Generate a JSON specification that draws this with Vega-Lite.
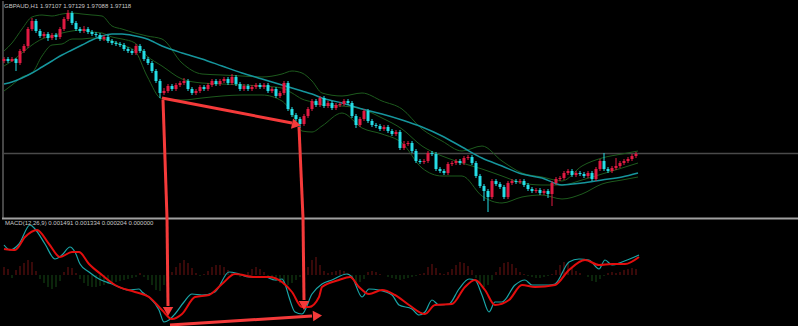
{
  "$schema": "https://vega.github.io/schema/vega-lite/v6.json",
  "background": "#000000",
  "padding": 0,
  "spacing": 0,
  "bounds": "flush",
  "config": {"view": {"stroke": null}, "axis": {"disable": true}},
  "datasets": {
    "one": [{}],
    "candles": [
      {"t":0,"o":157,"h":161,"l":155,"c":159},{"t":1,"o":159,"h":161,"l":155,"c":157},{"t":2,"o":157,"h":161,"l":156,"c":159},{"t":3,"o":159,"h":160,"l":147,"c":155},
      {"t":4,"o":155,"h":169,"l":153,"c":167},{"t":5,"o":167,"h":174,"l":165,"c":172},{"t":6,"o":172,"h":191,"l":170,"c":189},{"t":7,"o":189,"h":200,"l":187,"c":197},
      {"t":8,"o":197,"h":199,"l":185,"c":187},{"t":9,"o":187,"h":189,"l":180,"c":182},{"t":10,"o":182,"h":186,"l":180,"c":184},{"t":11,"o":184,"h":186,"l":177,"c":180},
      {"t":12,"o":180,"h":185,"l":178,"c":183},{"t":13,"o":183,"h":185,"l":178,"c":181},{"t":14,"o":181,"h":191,"l":179,"c":189},{"t":15,"o":189,"h":201,"l":187,"c":199},
      {"t":16,"o":199,"h":208,"l":197,"c":205},{"t":17,"o":205,"h":207,"l":193,"c":195},{"t":18,"o":195,"h":197,"l":187,"c":189},{"t":19,"o":189,"h":191,"l":185,"c":187},
      {"t":20,"o":187,"h":192,"l":185,"c":189},{"t":21,"o":189,"h":191,"l":184,"c":186},{"t":22,"o":186,"h":188,"l":182,"c":184},{"t":23,"o":184,"h":186,"l":181,"c":183},
      {"t":24,"o":183,"h":185,"l":177,"c":179},{"t":25,"o":179,"h":183,"l":177,"c":181},{"t":26,"o":181,"h":183,"l":175,"c":177},{"t":27,"o":177,"h":179,"l":173,"c":175},
      {"t":28,"o":175,"h":177,"l":172,"c":174},{"t":29,"o":174,"h":176,"l":171,"c":173},{"t":30,"o":173,"h":175,"l":167,"c":169},{"t":31,"o":169,"h":171,"l":165,"c":167},
      {"t":32,"o":167,"h":169,"l":163,"c":165},{"t":33,"o":165,"h":174,"l":163,"c":172},{"t":34,"o":172,"h":174,"l":165,"c":167},{"t":35,"o":167,"h":169,"l":157,"c":159},
      {"t":36,"o":159,"h":161,"l":153,"c":155},{"t":37,"o":155,"h":157,"l":145,"c":147},{"t":38,"o":147,"h":149,"l":135,"c":137},{"t":39,"o":137,"h":139,"l":120,"c":125},
      {"t":40,"o":125,"h":130,"l":123,"c":127},{"t":41,"o":127,"h":134,"l":125,"c":132},{"t":42,"o":132,"h":134,"l":127,"c":129},{"t":43,"o":129,"h":135,"l":127,"c":133},
      {"t":44,"o":133,"h":137,"l":131,"c":135},{"t":45,"o":135,"h":140,"l":133,"c":137},{"t":46,"o":137,"h":139,"l":127,"c":129},{"t":47,"o":129,"h":131,"l":123,"c":125},
      {"t":48,"o":125,"h":129,"l":123,"c":127},{"t":49,"o":127,"h":133,"l":125,"c":131},{"t":50,"o":131,"h":133,"l":127,"c":129},{"t":51,"o":129,"h":135,"l":127,"c":133},
      {"t":52,"o":133,"h":139,"l":131,"c":137},{"t":53,"o":137,"h":139,"l":132,"c":134},{"t":54,"o":134,"h":139,"l":132,"c":137},{"t":55,"o":137,"h":141,"l":135,"c":139},
      {"t":56,"o":139,"h":141,"l":133,"c":135},{"t":57,"o":135,"h":144,"l":133,"c":141},{"t":58,"o":141,"h":143,"l":132,"c":134},{"t":59,"o":134,"h":136,"l":127,"c":129},
      {"t":60,"o":129,"h":134,"l":127,"c":132},{"t":61,"o":132,"h":134,"l":127,"c":129},{"t":62,"o":129,"h":133,"l":127,"c":131},{"t":63,"o":131,"h":135,"l":129,"c":133},
      {"t":64,"o":133,"h":135,"l":129,"c":131},{"t":65,"o":131,"h":135,"l":129,"c":133},{"t":66,"o":133,"h":135,"l":125,"c":127},{"t":67,"o":127,"h":131,"l":125,"c":129},
      {"t":68,"o":129,"h":131,"l":120,"c":122},{"t":69,"o":122,"h":127,"l":120,"c":125},{"t":70,"o":125,"h":137,"l":123,"c":135},{"t":71,"o":135,"h":137,"l":107,"c":109},
      {"t":72,"o":109,"h":111,"l":101,"c":103},{"t":73,"o":103,"h":105,"l":97,"c":99},{"t":74,"o":99,"h":101,"l":90,"c":94},{"t":75,"o":94,"h":104,"l":92,"c":102},
      {"t":76,"o":102,"h":111,"l":100,"c":109},{"t":77,"o":109,"h":119,"l":107,"c":117},{"t":78,"o":117,"h":119,"l":111,"c":113},{"t":79,"o":113,"h":122,"l":111,"c":120},
      {"t":80,"o":120,"h":122,"l":110,"c":112},{"t":81,"o":112,"h":117,"l":110,"c":115},{"t":82,"o":115,"h":117,"l":108,"c":110},{"t":83,"o":110,"h":115,"l":108,"c":113},
      {"t":84,"o":113,"h":116,"l":111,"c":114},{"t":85,"o":114,"h":119,"l":112,"c":117},{"t":86,"o":117,"h":119,"l":113,"c":115},{"t":87,"o":115,"h":117,"l":100,"c":102},
      {"t":88,"o":102,"h":104,"l":90,"c":93},{"t":89,"o":93,"h":101,"l":91,"c":99},{"t":90,"o":99,"h":109,"l":97,"c":107},{"t":91,"o":107,"h":109,"l":95,"c":97},
      {"t":92,"o":97,"h":99,"l":91,"c":93},{"t":93,"o":93,"h":95,"l":90,"c":92},{"t":94,"o":92,"h":94,"l":87,"c":89},{"t":95,"o":89,"h":93,"l":87,"c":91},
      {"t":96,"o":91,"h":93,"l":85,"c":87},{"t":97,"o":87,"h":89,"l":82,"c":84},{"t":98,"o":84,"h":88,"l":82,"c":86},{"t":99,"o":86,"h":88,"l":68,"c":70},
      {"t":100,"o":70,"h":77,"l":68,"c":74},{"t":101,"o":74,"h":77,"l":72,"c":75},{"t":102,"o":75,"h":77,"l":65,"c":67},{"t":103,"o":67,"h":69,"l":55,"c":57},
      {"t":104,"o":57,"h":59,"l":54,"c":56},{"t":105,"o":56,"h":59,"l":54,"c":57},{"t":106,"o":57,"h":67,"l":55,"c":65},{"t":107,"o":65,"h":67,"l":62,"c":64},
      {"t":108,"o":64,"h":66,"l":47,"c":49},{"t":109,"o":49,"h":51,"l":45,"c":47},{"t":110,"o":47,"h":49,"l":43,"c":45},{"t":111,"o":45,"h":56,"l":43,"c":54},
      {"t":112,"o":54,"h":57,"l":52,"c":55},{"t":113,"o":55,"h":59,"l":53,"c":57},{"t":114,"o":57,"h":59,"l":53,"c":55},{"t":115,"o":55,"h":62,"l":53,"c":60},
      {"t":116,"o":60,"h":63,"l":58,"c":61},{"t":117,"o":61,"h":63,"l":53,"c":55},{"t":118,"o":55,"h":57,"l":40,"c":42},{"t":119,"o":42,"h":44,"l":30,"c":32},
      {"t":120,"o":32,"h":34,"l":17,"c":27},{"t":121,"o":27,"h":29,"l":6,"c":21},{"t":122,"o":21,"h":39,"l":19,"c":37},{"t":123,"o":37,"h":39,"l":32,"c":34},
      {"t":124,"o":34,"h":36,"l":29,"c":31},{"t":125,"o":31,"h":33,"l":19,"c":21},{"t":126,"o":21,"h":37,"l":19,"c":35},{"t":127,"o":35,"h":39,"l":33,"c":37},
      {"t":128,"o":37,"h":39,"l":34,"c":36},{"t":129,"o":36,"h":39,"l":34,"c":37},{"t":130,"o":37,"h":39,"l":31,"c":33},{"t":131,"o":33,"h":35,"l":27,"c":29},
      {"t":132,"o":29,"h":31,"l":25,"c":27},{"t":133,"o":27,"h":30,"l":25,"c":28},{"t":134,"o":28,"h":30,"l":23,"c":25},{"t":135,"o":25,"h":29,"l":23,"c":27},
      {"t":136,"o":27,"h":29,"l":20,"c":24},{"t":137,"o":24,"h":37,"l":12,"c":35},{"t":138,"o":35,"h":41,"l":33,"c":39},{"t":139,"o":39,"h":42,"l":37,"c":40},
      {"t":140,"o":40,"h":47,"l":38,"c":45},{"t":141,"o":45,"h":49,"l":43,"c":47},{"t":142,"o":47,"h":49,"l":41,"c":43},{"t":143,"o":43,"h":47,"l":41,"c":45},
      {"t":144,"o":45,"h":47,"l":42,"c":44},{"t":145,"o":44,"h":46,"l":40,"c":42},{"t":146,"o":42,"h":47,"l":40,"c":45},{"t":147,"o":45,"h":47,"l":37,"c":39},
      {"t":148,"o":39,"h":51,"l":37,"c":49},{"t":149,"o":49,"h":59,"l":47,"c":57},{"t":150,"o":57,"h":65,"l":47,"c":49},{"t":151,"o":49,"h":51,"l":45,"c":47},
      {"t":152,"o":47,"h":52,"l":45,"c":50},{"t":153,"o":50,"h":60,"l":48,"c":52},{"t":154,"o":52,"h":57,"l":50,"c":55},{"t":155,"o":55,"h":59,"l":53,"c":57},
      {"t":156,"o":57,"h":61,"l":55,"c":59},{"t":157,"o":59,"h":64,"l":57,"c":62},{"t":158,"o":62,"h":66,"l":60,"c":64}
    ],
    "bands": [
      {"t":0,"u":167,"mid":152,"lo":127,"ma":134},{"t":2,"u":175,"mid":157,"lo":133,"ma":136},{"t":4.5,"u":189,"mid":165,"lo":141,"ma":140},
      {"t":7,"u":201,"mid":173,"lo":145,"ma":145},{"t":9.5,"u":203,"mid":179,"lo":162,"ma":151},{"t":12,"u":202,"mid":182,"lo":173,"ma":157},
      {"t":14.5,"u":204,"mid":185,"lo":174,"ma":163},{"t":17,"u":205,"mid":187,"lo":179,"ma":168},{"t":19.5,"u":204,"mid":188,"lo":179,"ma":173},
      {"t":22,"u":203,"mid":186,"lo":180,"ma":178},{"t":24.5,"u":202,"mid":185,"lo":179,"ma":182},{"t":27,"u":192,"mid":181,"lo":177,"ma":184},
      {"t":29.5,"u":189,"mid":179,"lo":173,"ma":184},{"t":32.75,"u":185,"mid":175,"lo":167,"ma":182},{"t":35.75,"u":182,"mid":162,"lo":142,"ma":179},
      {"t":39.5,"u":179,"mid":152,"lo":119,"ma":172},{"t":44.5,"u":155,"mid":139,"lo":118,"ma":165},{"t":49.5,"u":144,"mid":135,"lo":120,"ma":159},
      {"t":54.5,"u":143,"mid":134,"lo":122,"ma":152},{"t":59.5,"u":142,"mid":133,"lo":123,"ma":145},{"t":64.5,"u":141,"mid":132,"lo":123,"ma":139},
      {"t":69.5,"u":144,"mid":130,"lo":117,"ma":133},{"t":72,"u":147,"mid":125,"lo":105,"ma":130},{"t":74.5,"u":145,"mid":119,"lo":87,"ma":127},
      {"t":77,"u":137,"mid":116,"lo":86,"ma":124},{"t":79.5,"u":125,"mid":113,"lo":92,"ma":120},{"t":84.5,"u":122,"mid":112,"lo":105,"ma":115},
      {"t":89.5,"u":125,"mid":109,"lo":90,"ma":109},{"t":94.5,"u":117,"mid":100,"lo":84,"ma":104},{"t":99.5,"u":109,"mid":89,"lo":75,"ma":98},
      {"t":104.5,"u":89,"mid":72,"lo":50,"ma":91},{"t":109.5,"u":77,"mid":62,"lo":42,"ma":82},{"t":114.5,"u":67,"mid":55,"lo":42,"ma":71},
      {"t":119.5,"u":72,"mid":49,"lo":22,"ma":60},{"t":124.5,"u":57,"mid":42,"lo":15,"ma":52},{"t":129.5,"u":45,"mid":35,"lo":21,"ma":44},
      {"t":134.5,"u":41,"mid":33,"lo":23,"ma":40},{"t":139.5,"u":37,"mid":33,"lo":19,"ma":33},{"t":144.5,"u":52,"mid":38,"lo":24,"ma":35},
      {"t":149.5,"u":60,"mid":44,"lo":34,"ma":38},{"t":154.5,"u":64,"mid":50,"lo":38,"ma":41},{"t":158.5,"u":67,"mid":55,"lo":41,"ma":45}
    ],
    "hist": [
      {"t":0,"h":8},{"t":1,"h":6},{"t":2,"h":-3},{"t":3,"h":5},{"t":4,"h":9},{"t":5,"h":12},{"t":6,"h":15},{"t":7,"h":13},{"t":8,"h":4},{"t":9,"h":-4},
      {"t":10,"h":-8},{"t":11,"h":-12},{"t":12,"h":-14},{"t":13,"h":-12},{"t":14,"h":-6},{"t":15,"h":3},{"t":16,"h":8},{"t":17,"h":7},{"t":18,"h":2},{"t":19,"h":-4},
      {"t":20,"h":-8},{"t":21,"h":-11},{"t":22,"h":-12},{"t":23,"h":-12},{"t":24,"h":-11},{"t":25,"h":-10},{"t":26,"h":-9},{"t":27,"h":-8},{"t":28,"h":-7},{"t":29,"h":-6},
      {"t":30,"h":-5},{"t":31,"h":-4},{"t":32,"h":-3},{"t":33,"h":-2},{"t":34,"h":2},{"t":35,"h":-2},{"t":36,"h":-5},{"t":37,"h":-10},{"t":38,"h":-15},{"t":39,"h":-16},
      {"t":40,"h":-10},{"t":41,"h":-4},{"t":42,"h":3},{"t":43,"h":8},{"t":44,"h":12},{"t":45,"h":15},{"t":46,"h":12},{"t":47,"h":7},{"t":48,"h":2},{"t":49,"h":-1},
      {"t":50,"h":1},{"t":51,"h":4},{"t":52,"h":8},{"t":53,"h":10},{"t":54,"h":10},{"t":55,"h":8},{"t":56,"h":5},{"t":57,"h":3},{"t":58,"h":1},{"t":59,"h":-2},
      {"t":60,"h":-1},{"t":61,"h":3},{"t":62,"h":6},{"t":63,"h":8},{"t":64,"h":6},{"t":65,"h":3},{"t":66,"h":-2},{"t":67,"h":-4},{"t":68,"h":-6},{"t":69,"h":-8},
      {"t":70,"h":-10},{"t":71,"h":-10},{"t":72,"h":-8},{"t":73,"h":-5},{"t":74,"h":-2},{"t":75,"h":3},{"t":76,"h":8},{"t":77,"h":15},{"t":78,"h":18},{"t":79,"h":10},
      {"t":80,"h":4},{"t":81,"h":2},{"t":82,"h":3},{"t":83,"h":4},{"t":84,"h":5},{"t":85,"h":4},{"t":86,"h":2},{"t":87,"h":-4},{"t":88,"h":-8},{"t":89,"h":-7},
      {"t":90,"h":-4},{"t":91,"h":3},{"t":92,"h":4},{"t":93,"h":3},{"t":94,"h":1},{"t":95,"h":0},{"t":96,"h":-2},{"t":97,"h":-3},{"t":98,"h":-4},{"t":99,"h":-5},
      {"t":100,"h":-4},{"t":101,"h":-3},{"t":102,"h":-2},{"t":103,"h":-1},{"t":104,"h":1},{"t":105,"h":2},{"t":106,"h":8},{"t":107,"h":11},{"t":108,"h":7},{"t":109,"h":2},
      {"t":110,"h":1},{"t":111,"h":3},{"t":112,"h":6},{"t":113,"h":10},{"t":114,"h":13},{"t":115,"h":12},{"t":116,"h":9},{"t":117,"h":5},{"t":118,"h":-3},{"t":119,"h":-8},
      {"t":120,"h":-12},{"t":121,"h":-10},{"t":122,"h":-5},{"t":123,"h":3},{"t":124,"h":8},{"t":125,"h":12},{"t":126,"h":13},{"t":127,"h":11},{"t":128,"h":7},{"t":129,"h":3},
      {"t":130,"h":1},{"t":131,"h":-1},{"t":132,"h":-2},{"t":133,"h":-3},{"t":134,"h":-3},{"t":135,"h":-2},{"t":136,"h":-1},{"t":137,"h":1},{"t":138,"h":5},{"t":139,"h":10},
      {"t":140,"h":13},{"t":141,"h":12},{"t":142,"h":8},{"t":143,"h":4},{"t":144,"h":2},{"t":145,"h":0},{"t":146,"h":-2},{"t":147,"h":-6},{"t":148,"h":-7},{"t":149,"h":-4},
      {"t":150,"h":-1},{"t":151,"h":2},{"t":152,"h":3},{"t":153,"h":2},{"t":154,"h":3},{"t":155,"h":5},{"t":156,"h":6},{"t":157,"h":7},{"t":158,"h":6}
    ],
    "macd": [
      {"t":0,"v":30},{"t":1.5,"v":25},{"t":3.75,"v":31},{"t":6.5,"v":50},{"t":7.75,"v":46},{"t":10.25,"v":31},{"t":12.75,"v":16},{"t":14.5,"v":20},{"t":16.5,"v":28},
      {"t":17.75,"v":23},{"t":19,"v":11},{"t":21.25,"v":3},{"t":23.75,"v":-4},{"t":27,"v":-9},{"t":31.25,"v":-15},{"t":33.75,"v":-14},{"t":34.5,"v":-17},{"t":36.25,"v":-22},
      {"t":38.75,"v":-35},{"t":40,"v":-47},{"t":41.25,"v":-45},{"t":42.75,"v":-39},{"t":45,"v":-27},{"t":47,"v":-19},{"t":49.5,"v":-20},{"t":52.75,"v":-17},{"t":56.25,"v":3},
      {"t":58.75,"v":1},{"t":61.25,"v":-2},{"t":65.25,"v":-2},{"t":67.75,"v":-5},{"t":69.5,"v":-4},{"t":70.25,"v":-9},{"t":71.25,"v":-22},{"t":72.75,"v":-37},{"t":74.5,"v":-39},
      {"t":77,"v":-19},{"t":79.5,"v":-9},{"t":82,"v":-5},{"t":85.75,"v":1},{"t":87,"v":-2},{"t":89.5,"v":-22},{"t":91.25,"v":-14},{"t":93.75,"v":-15},{"t":97,"v":-20},
      {"t":98.75,"v":-30},{"t":102,"v":-34},{"t":103.75,"v":-40},{"t":105.25,"v":-37},{"t":107,"v":-25},{"t":108.75,"v":-30},{"t":111.25,"v":-29},{"t":113.75,"v":-14},
      {"t":116.25,"v":-4},{"t":117.75,"v":-5},{"t":119.5,"v":-20},{"t":121.25,"v":-37},{"t":122.75,"v":-27},{"t":124.5,"v":-27},{"t":127.75,"v":-10},{"t":130.25,"v":-5},
      {"t":132,"v":-10},{"t":136.25,"v":-10},{"t":137.75,"v":-9},{"t":141.25,"v":13},{"t":143.75,"v":16},{"t":146.25,"v":15},{"t":148.75,"v":6},{"t":150.25,"v":15},
      {"t":152,"v":10},{"t":154.5,"v":13},{"t":158.75,"v":20}
    ],
    "signal": [
      {"t":0,"v":26},{"t":2.75,"v":25},{"t":5.25,"v":38},{"t":8.25,"v":45},{"t":11.25,"v":31},{"t":14,"v":18},{"t":17,"v":23},{"t":18.75,"v":23},{"t":21.25,"v":11},
      {"t":24.5,"v":0},{"t":27.75,"v":-10},{"t":32.75,"v":-17},{"t":36.25,"v":-22},{"t":39.5,"v":-35},{"t":42,"v":-44},{"t":44.5,"v":-39},{"t":47.75,"v":-22},{"t":51.25,"v":-20},
      {"t":54.5,"v":-9},{"t":57.75,"v":1},{"t":62.75,"v":-2},{"t":66.25,"v":-2},{"t":69.5,"v":-7},{"t":72,"v":-17},{"t":74.5,"v":-32},{"t":76.25,"v":-32},{"t":78.75,"v":-22},
      {"t":79.5,"v":-12},{"t":83.75,"v":-5},{"t":86.5,"v":-2},{"t":88.75,"v":-12},{"t":91.25,"v":-19},{"t":94.5,"v":-15},{"t":97.75,"v":-20},{"t":101.25,"v":-30},
      {"t":105.25,"v":-39},{"t":107.75,"v":-30},{"t":112,"v":-29},{"t":115.25,"v":-12},{"t":117.75,"v":-5},{"t":120.25,"v":-15},{"t":122.75,"v":-30},{"t":126.25,"v":-25},
      {"t":129.5,"v":-10},{"t":132.75,"v":-12},{"t":137.75,"v":-10},{"t":141.25,"v":5},{"t":145.25,"v":15},{"t":148.75,"v":10},{"t":152,"v":11},{"t":155.25,"v":11},{"t":158.75,"v":18}
    ],
    "arrowsTop": [
      {"t1":39.5,"p1":120,"t2":72,"p2":95},
      {"t1":39.75,"p1":118,"t2":40.75,"p2":0},
      {"t1":73.75,"p1":91,"t2":74.75,"p2":0}
    ],
    "arrowsBottom": [
      {"t1":40.75,"v1":57,"t2":41,"v2":-31},
      {"t1":74.75,"v1":57,"t2":75,"v2":-25},
      {"t1":41.5,"v1":-50,"t2":77,"v2":-41}
    ]
  },
  "vconcat": [
    {
      "width": 798,
      "height": 217,
      "layer": [
        {
          "data": {"name": "one"},
          "mark": {"type": "rule", "color": "#8c8c8c", "strokeWidth": 1},
          "encoding": {
            "x": {"datum": -0.25, "type": "quantitative", "scale": {"domain": [-0.5, 199], "nice": false, "zero": false, "padding": 0}, "axis": null},
            "y": {"datum": 0, "type": "quantitative", "scale": {"domain": [0, 217], "nice": false, "zero": false, "padding": 0}, "axis": null},
            "y2": {"datum": 217}
          }
        },
        {
          "data": {"name": "one"},
          "mark": {"type": "rule", "color": "#4a4a4a", "strokeWidth": 1.5},
          "encoding": {
            "x": {"datum": -0.5, "type": "quantitative", "axis": null},
            "x2": {"datum": 199},
            "y": {"datum": 64.5, "type": "quantitative", "axis": null}
          }
        },
        {
          "data": {"name": "bands"},
          "mark": {"type": "line", "color": "#1d5a1d", "strokeWidth": 1, "interpolate": "monotone"},
          "encoding": {"x": {"field": "t", "type": "quantitative", "axis": null}, "y": {"field": "u", "type": "quantitative", "axis": null}}
        },
        {
          "data": {"name": "bands"},
          "mark": {"type": "line", "color": "#1d5a1d", "strokeWidth": 1, "interpolate": "monotone"},
          "encoding": {"x": {"field": "t", "type": "quantitative", "axis": null}, "y": {"field": "mid", "type": "quantitative", "axis": null}}
        },
        {
          "data": {"name": "bands"},
          "mark": {"type": "line", "color": "#1d5a1d", "strokeWidth": 1, "interpolate": "monotone"},
          "encoding": {"x": {"field": "t", "type": "quantitative", "axis": null}, "y": {"field": "lo", "type": "quantitative", "axis": null}}
        },
        {
          "data": {"name": "bands"},
          "mark": {"type": "line", "color": "#16959c", "strokeWidth": 1.5, "interpolate": "monotone"},
          "encoding": {"x": {"field": "t", "type": "quantitative", "axis": null}, "y": {"field": "ma", "type": "quantitative", "axis": null}}
        },
        {
          "data": {"name": "candles"},
          "mark": {"type": "rule", "strokeWidth": 1},
          "encoding": {
            "x": {"field": "t", "type": "quantitative", "axis": null},
            "y": {"field": "l", "type": "quantitative", "axis": null},
            "y2": {"field": "h"},
            "color": {"condition": {"test": "datum.c > datum.o", "value": "#e21a42"}, "value": "#25dde6"}
          }
        },
        {
          "data": {"name": "candles"},
          "mark": {"type": "bar", "size": 3},
          "encoding": {
            "x": {"field": "t", "type": "quantitative", "axis": null, "scale": {"padding": 0}},
            "y": {"field": "o", "type": "quantitative", "axis": null, "scale": {"padding": 0}},
            "y2": {"field": "c"},
            "color": {"condition": {"test": "datum.c > datum.o", "value": "#e21a42"}, "value": "#25dde6"}
          }
        },
        {
          "data": {"name": "one"},
          "mark": {"type": "rule", "color": "#a0a0a0", "strokeWidth": 2},
          "encoding": {
            "x": {"datum": -0.5, "type": "quantitative", "axis": null},
            "x2": {"datum": 199},
            "y": {"datum": -0.5, "type": "quantitative", "axis": null}
          }
        },
        {
          "data": {"name": "arrowsTop"},
          "mark": {"type": "rule", "color": "#f53a3a", "strokeWidth": 3},
          "encoding": {
            "x": {"field": "t1", "type": "quantitative", "axis": null},
            "y": {"field": "p1", "type": "quantitative", "axis": null},
            "x2": {"field": "t2"},
            "y2": {"field": "p2"}
          }
        },
        {
          "data": {"name": "one"},
          "mark": {"type": "point", "shape": "triangle", "angle": 101.5, "filled": true, "opacity": 1, "size": 110, "color": "#f53a3a"},
          "encoding": {"x": {"datum": 72.75, "type": "quantitative", "axis": null}, "y": {"datum": 93.8, "type": "quantitative", "axis": null}}
        },
        {
          "data": {"name": "one"},
          "mark": {"type": "text", "align": "left", "baseline": "top", "font": "Liberation Sans", "fontSize": 6, "color": "#c8c8c8"},
          "encoding": {
            "x": {"datum": 0, "type": "quantitative", "axis": null},
            "y": {"datum": 215, "type": "quantitative", "axis": null},
            "text": {"value": "GBPAUD,H1  1.97107 1.97129 1.97088 1.97118"}
          }
        }
      ]
    },
    {
      "width": 798,
      "height": 109,
      "layer": [
        {
          "data": {"name": "hist"},
          "mark": {"type": "rule", "strokeWidth": 1},
          "encoding": {
            "x": {"field": "t", "type": "quantitative", "scale": {"domain": [-0.5, 199], "nice": false, "zero": false, "padding": 0}, "axis": null},
            "y": {"field": "h", "type": "quantitative", "scale": {"domain": [-52, 57], "nice": false, "zero": false, "padding": 0}, "axis": null},
            "y2": {"datum": 0},
            "color": {"condition": {"test": "datum.h > 0", "value": "#701212"}, "value": "#164a16"}
          }
        },
        {
          "data": {"name": "macd"},
          "mark": {"type": "line", "color": "#1aa6a8", "strokeWidth": 1.2, "interpolate": "monotone"},
          "encoding": {"x": {"field": "t", "type": "quantitative", "axis": null}, "y": {"field": "v", "type": "quantitative", "axis": null}}
        },
        {
          "data": {"name": "signal"},
          "mark": {"type": "line", "color": "#e30e0e", "strokeWidth": 2, "interpolate": "monotone"},
          "encoding": {"x": {"field": "t", "type": "quantitative", "axis": null}, "y": {"field": "v", "type": "quantitative", "axis": null}}
        },
        {
          "data": {"name": "arrowsBottom"},
          "mark": {"type": "rule", "color": "#f53a3a", "strokeWidth": 3},
          "encoding": {
            "x": {"field": "t1", "type": "quantitative", "axis": null},
            "y": {"field": "v1", "type": "quantitative", "axis": null},
            "x2": {"field": "t2"},
            "y2": {"field": "v2"}
          }
        },
        {
          "data": {"name": "one"},
          "mark": {"type": "point", "shape": "triangle", "angle": 180, "filled": true, "opacity": 1, "size": 110, "color": "#f53a3a"},
          "encoding": {"x": {"datum": 41, "type": "quantitative", "axis": null}, "y": {"datum": -35, "type": "quantitative", "axis": null}}
        },
        {
          "data": {"name": "one"},
          "mark": {"type": "point", "shape": "triangle", "angle": 180, "filled": true, "opacity": 1, "size": 110, "color": "#f53a3a"},
          "encoding": {"x": {"datum": 75, "type": "quantitative", "axis": null}, "y": {"datum": -29, "type": "quantitative", "axis": null}}
        },
        {
          "data": {"name": "one"},
          "mark": {"type": "point", "shape": "triangle", "angle": 86.6, "filled": true, "opacity": 1, "size": 110, "color": "#f53a3a"},
          "encoding": {"x": {"datum": 78, "type": "quantitative", "axis": null}, "y": {"datum": -40.8, "type": "quantitative", "axis": null}}
        },
        {
          "data": {"name": "one"},
          "mark": {"type": "text", "align": "left", "baseline": "middle", "font": "Liberation Sans", "fontSize": 6, "color": "#c8c8c8"},
          "encoding": {
            "x": {"datum": 0.25, "type": "quantitative", "axis": null},
            "y": {"datum": 52, "type": "quantitative", "axis": null},
            "text": {"value": "MACD(12,26,9) 0.001491 0.001334 0.000204 0.000000"}
          }
        }
      ]
    }
  ]
}
